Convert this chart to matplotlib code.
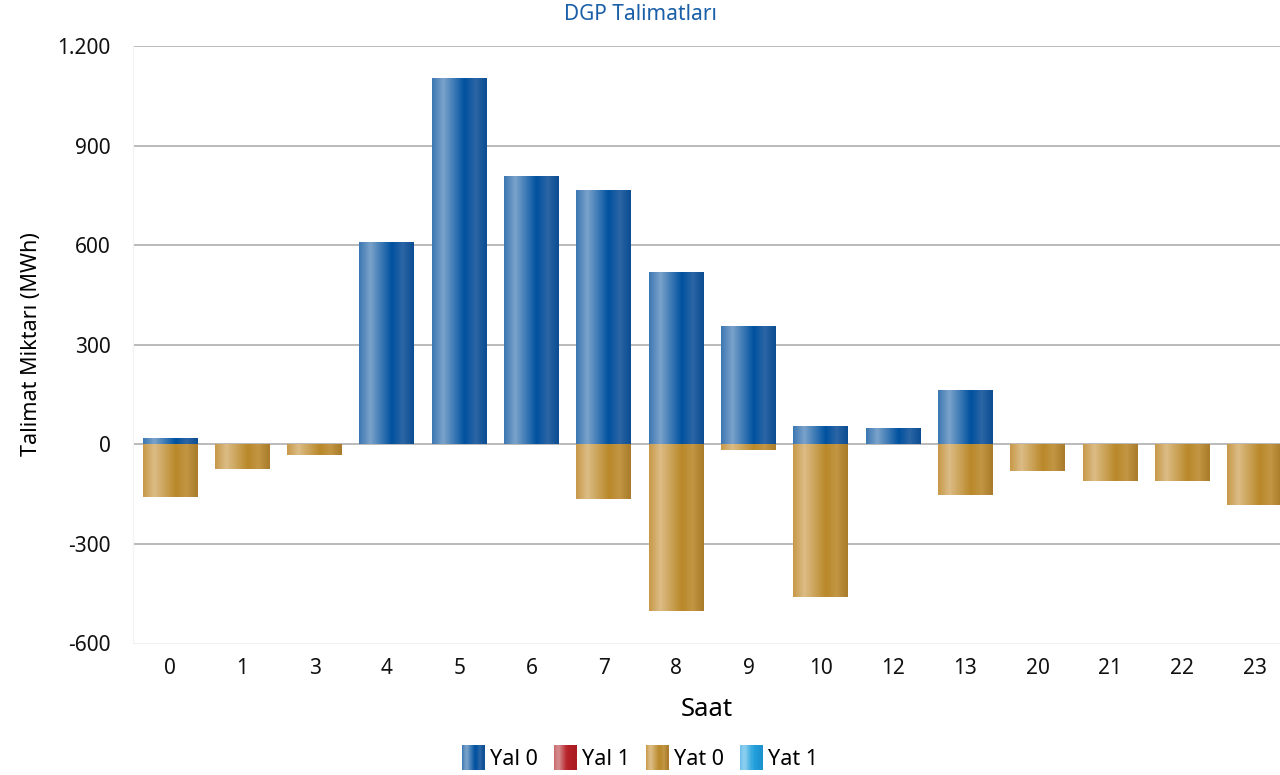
import numpy as np
import matplotlib.pyplot as plt
from matplotlib.colors import LinearSegmentedColormap
from matplotlib.patches import Patch, Rectangle
from matplotlib.legend_handler import HandlerBase
from matplotlib.ticker import FuncFormatter

plt.rcParams['font.family'] = ['Noto Sans', 'DejaVu Sans']

# data
hours = ['0', '1', '3', '4', '5', '6', '7', '8', '9', '10', '12', '13', '20', '21', '22', '23']
yal0 = [18, 0, 0, 608, 1105, 807, 765, 518, 355, 54, 48, 163, 0, 0, 0, 0]
yal1 = [0] * 16
yat0 = [-160, -75, -33, 0, 0, 0, -166, -503, -18, -461, 0, -153, -80, -111, -111, -184]
yat1 = [0] * 16

# gradient colours for the bar fills (left -> right)
blue_grad = LinearSegmentedColormap.from_list('b', [
    (0.0, '#3d78b3'), (0.2, '#7ba3ca'), (0.6, '#0051a0'), (0.8, '#2c66a5'), (1.0, '#0c4d93')])
gold_grad = LinearSegmentedColormap.from_list('g', [
    (0.0, '#c8994a'), (0.2, '#dcbd86'), (0.6, '#b9882a'), (0.8, '#c29644'), (1.0, '#a97b2a')])
red_grad = LinearSegmentedColormap.from_list('r', [
    (0.0, '#c86a6c'), (0.2, '#d48a8c'), (0.6, '#b52026'), (1.0, '#a81c22')])
cyan_grad = LinearSegmentedColormap.from_list('c', [
    (0.0, '#6cbde8'), (0.2, '#8ccfee'), (0.6, '#23a0dc'), (1.0, '#1c90cc')])

fig = plt.figure(figsize=(12.8, 7.75), dpi=100)
ax = fig.add_axes([0.104, 0.1703, 0.896, 0.7703])

x = np.arange(len(hours))
grad = np.linspace(0, 1, 64).reshape(1, -1)


def grad_bars(vals, cmap):
    bars = ax.bar(x, vals, width=0.76, color=cmap(0.6), zorder=3)
    for b in bars:
        h = b.get_height()
        if h == 0:
            continue
        x0 = b.get_x()
        y0, y1 = sorted([b.get_y(), b.get_y() + h])
        im = ax.imshow(grad, cmap=cmap, aspect='auto', extent=[x0, x0 + b.get_width(), y0, y1],
                       zorder=4, interpolation='bicubic')
        im.set_clip_path(b)
    return bars


class GradHandler(HandlerBase):
    def __init__(self, cmap):
        super().__init__()
        self.cmap = cmap

    def create_artists(self, legend, orig_handle, xdescent, ydescent, width, height, fontsize, trans):
        n = 20
        out = []
        for i in range(n):
            r = Rectangle((-xdescent + width * i / n, -ydescent - 0.15 * height), width / n + 0.3,
                          height * 1.3, facecolor=self.cmap((i + 0.5) / n), edgecolor='none',
                          transform=trans)
            out.append(r)
        return out


grad_bars(yal0, blue_grad)
grad_bars(yal1, red_grad)
grad_bars(yat0, gold_grad)
grad_bars(yat1, cyan_grad)

ax.set_xlim(-0.51, len(hours) - 0.65)
ax.set_ylim(-600, 1200)
ax.set_yticks(np.arange(-600, 1201, 300))
ax.yaxis.set_major_formatter(FuncFormatter(lambda v, p: f'{int(v):,}'.replace(',', '.')))
ax.set_xticks(x)
ax.set_xticklabels(hours)
ax.grid(axis='y', color='#b4b4b4', linewidth=1.3, zorder=0)
ax.get_ygridlines()[0].set_visible(False)
ax.set_axisbelow(True)
ax.tick_params(length=0, labelsize=15, colors='#111111')
ax.tick_params(axis='y', pad=16)
ax.tick_params(axis='x', pad=11)
for s in ['top', 'right']:
    ax.spines[s].set_visible(False)
ax.spines['left'].set_color('#f2f2f2')
ax.spines['bottom'].set_color('#f2f2f2')

ax.set_ylabel('Talimat Miktarı (MWh)', fontsize=15.5, labelpad=11)
ax.set_xlabel('Saat', fontsize=18.5, labelpad=13)
fig.text(0.5, 0.981, 'DGP Talimatları', ha='center', va='center', fontsize=15, color='#1a5fa8')

labels = ['Yal 0', 'Yal 1', 'Yat 0', 'Yat 1']
cmaps = [blue_grad, red_grad, gold_grad, cyan_grad]
handles = [Patch(color=c(0.6)) for c in cmaps]
fig.legend(handles, labels, loc='center', bbox_to_anchor=(0.5, 0.021),
           ncol=4, frameon=False, fontsize=15.5, handlelength=1.05, handleheight=1.0,
           handletextpad=0.25, columnspacing=0.75,
           handler_map={h: GradHandler(c) for h, c in zip(handles, cmaps)})

fig.savefig('out.png', dpi=100)
